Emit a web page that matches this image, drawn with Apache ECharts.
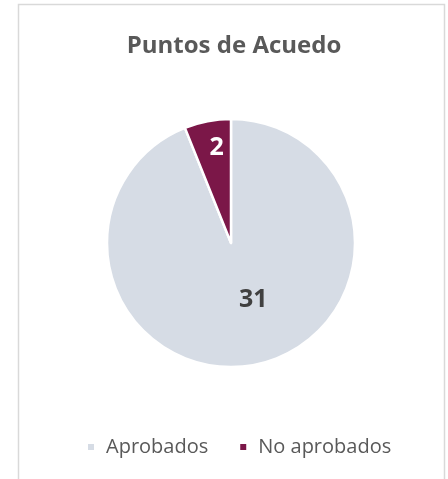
<!DOCTYPE html>
<html><head><meta charset="utf-8">
<script src="https://cdn.jsdelivr.net/npm/echarts@6/dist/echarts.min.js"></script>
<style>html,body{margin:0;padding:0;background:#fff}#c{width:448px;height:479px}</style>
</head><body><div id="c"></div>
<script>
const titleText = 'Puntos de Acuedo';
const categories = ['Aprobados', 'No aprobados'];
const values = [31, 2];
const colors = ['#D6DCE5', '#7B1748'];
const labelOffsets = [[10, -7], [-2, -31]];

const chart = echarts.init(document.getElementById('c'));
chart.setOption({
  animation: false,
  graphic: [{type: 'rect', shape: {x: 18.5, y: 4.5, width: 426, height: 490}, style: {fill: 'none', stroke: '#D9D9D9', lineWidth: 1.5}, silent: true}],
  title: {text: titleText, left: 229, textAlign: 'center', top: 29, textStyle: {fontFamily: 'Open Sans', fontWeight: 'bold', fontSize: 24, color: '#595959'}},
  legend: {top: 432, left: 81, itemWidth: 8, itemHeight: 8, itemGap: 30, icon: 'rect',
    textStyle: {fontFamily: 'Open Sans', fontSize: 20, color: '#595959', padding: [0, 0, 0, 6]}, data: categories},
  series: [{
    type: 'pie', center: [231, 243], radius: 124, startAngle: 90, clockwise: true,
    itemStyle: {borderColor: '#fff', borderWidth: 2.5},
    label: {show: true, position: 'inside', formatter: '{c}', fontFamily: 'Open Sans', fontWeight: 'bold', fontSize: 25},
    labelLine: {show: false},
    data: categories.map((n, i) => ({name: n, value: values[i], itemStyle: {color: colors[i]},
      label: {offset: labelOffsets[i], color: i === 0 ? '#404040' : '#ffffff'}}))
  }]
});
</script></body></html>
